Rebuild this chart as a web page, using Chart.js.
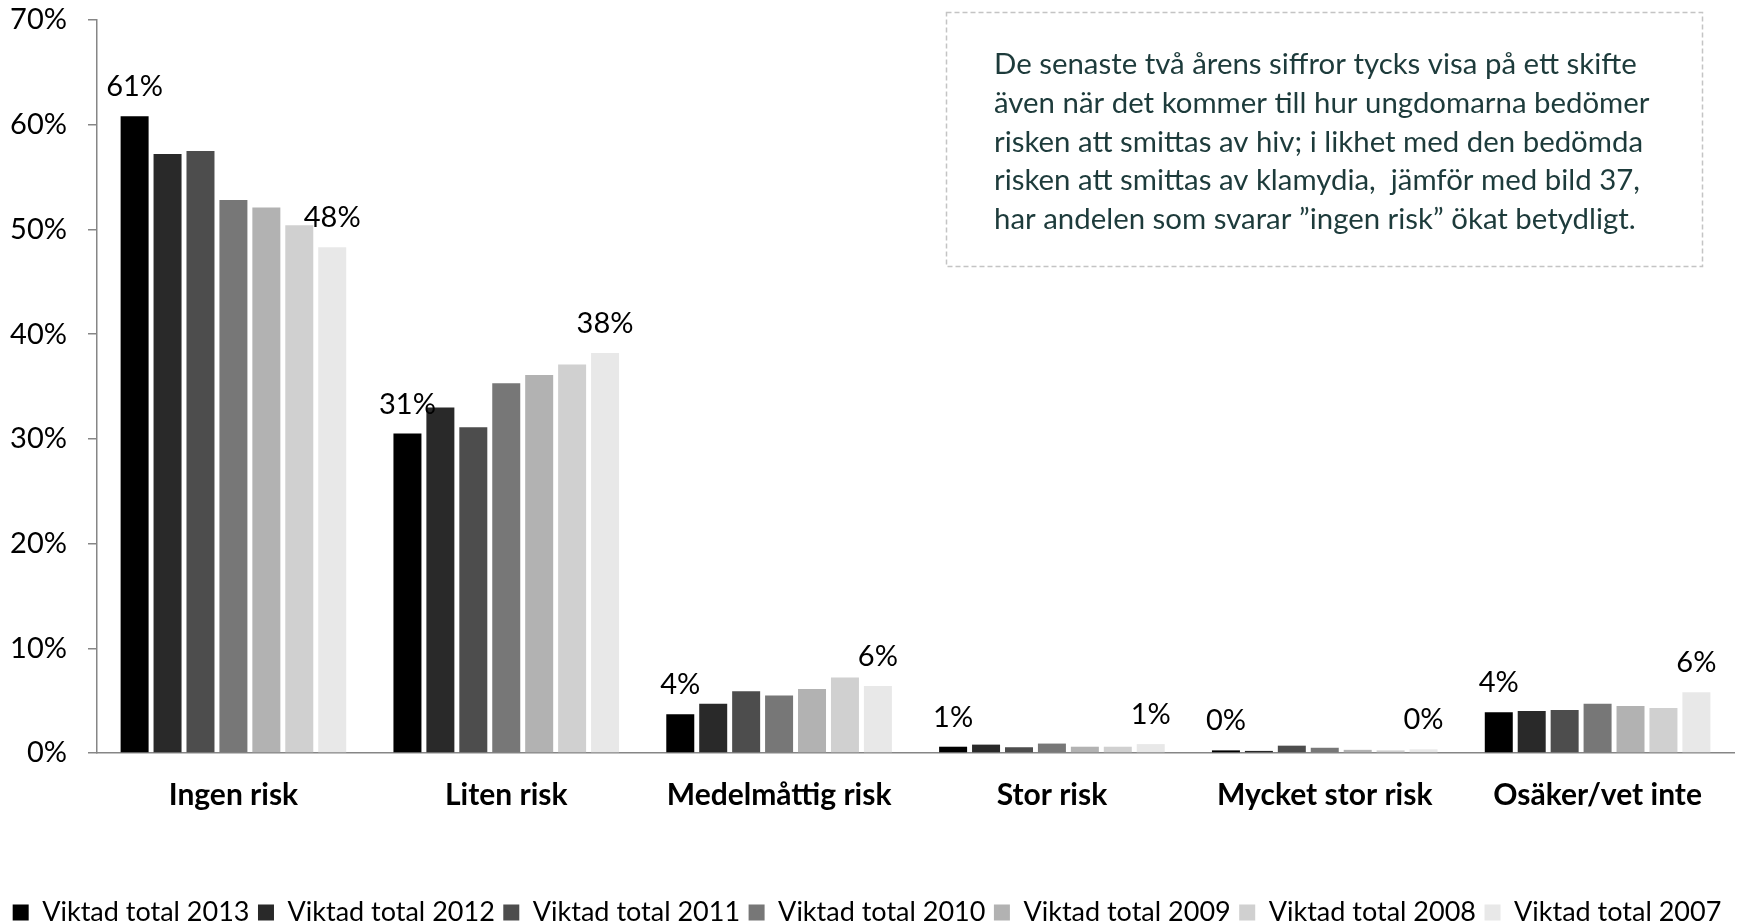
<!DOCTYPE html>
<html><head><meta charset="utf-8">
<script src="https://cdn.jsdelivr.net/npm/chart.js@4"></script>
<style>html,body{margin:0;padding:0;background:#fff}canvas{display:block}</style>
</head><body>
<canvas id="c" width="1739" height="922"></canvas>
<script>
const categories = ['Ingen risk','Liten risk','Medelmåttig risk','Stor risk','Mycket stor risk','Osäker/vet inte'];
const seriesNames = ['Viktad total 2013','Viktad total 2012','Viktad total 2011','Viktad total 2010','Viktad total 2009','Viktad total 2008','Viktad total 2007'];
const v2013 = [60.8, 30.5, 3.7, 0.6, 0.25, 3.9];
const v2012 = [57.2, 33.0, 4.7, 0.8, 0.2, 4.0];
const v2011 = [57.5, 31.1, 5.9, 0.55, 0.7, 4.1];
const v2010 = [52.8, 35.3, 5.5, 0.9, 0.5, 4.7];
const v2009 = [52.1, 36.1, 6.1, 0.6, 0.3, 4.5];
const v2008 = [50.4, 37.1, 7.2, 0.6, 0.25, 4.3];
const v2007 = [48.3, 38.2, 6.4, 0.85, 0.35, 5.8];
const seriesValues = [v2013, v2012, v2011, v2010, v2009, v2008, v2007];
const seriesColors = ['#000000','#292929','#4d4d4d','#777777','#b2b2b2','#d0d0d0','#e8e8e8'];
const yTickLabels = ['0%','10%','20%','30%','40%','50%','60%','70%'];
const labelledSeries = [0, 6];
const noteLines = [
  'De senaste två årens siffror tycks visa på ett skifte',
  'även när det kommer till hur ungdomarna bedömer',
  'risken att smittas av hiv; i likhet med den bedömda',
  'risken att smittas av klamydia,  jämför med bild 37,',
  'har andelen som svarar \u201dingen risk\u201d ökat betydligt.'
];

const FONT = 'Lato, "Open Sans", sans-serif';

const valueLabels = {
  id: 'valueLabels',
  afterDatasetsDraw(chart) {
    const ctx = chart.ctx;
    ctx.save();
    ctx.font = '29px ' + FONT;
    ctx.fillStyle = '#000';
    ctx.textAlign = 'center';
    ctx.textBaseline = 'alphabetic';
    labelledSeries.forEach(di => {
      const meta = chart.getDatasetMeta(di);
      meta.data.forEach((bar, i) => {
        const v = chart.data.datasets[di].data[i];
        ctx.fillText(Math.round(v) + '%', bar.x, bar.y - 20);
      });
    });
    ctx.restore();
  }
};

const note = {
  id: 'note',
  afterDraw(chart) {
    const ctx = chart.ctx;
    ctx.save();
    ctx.strokeStyle = '#c4c4c4';
    ctx.lineWidth = 1.5;
    ctx.setLineDash([5, 3]);
    ctx.strokeRect(946.5, 12.5, 756, 254);
    ctx.setLineDash([]);
    ctx.fillStyle = '#1d3b3b';
    ctx.font = '29.4px ' + FONT;
    ctx.textAlign = 'left';
    ctx.textBaseline = 'alphabetic';
    noteLines.forEach((t, i) => ctx.fillText(t, 994, 74 + i * 38.8));
    ctx.restore();
  }
};

new Chart(document.getElementById('c'), {
  type: 'bar',
  data: {
    labels: categories,
    datasets: seriesNames.map((n, i) => ({
      label: n,
      data: seriesValues[i],
      backgroundColor: seriesColors[i],
      borderWidth: 0,
      categoryPercentage: 0.845,
      barPercentage: 0.85
    }))
  },
  options: {
    responsive: false,
    animation: false,
    devicePixelRatio: 1,
    layout: { padding: { top: 0, right: 5, bottom: -14, left: 0 } },
    plugins: {
      legend: {
        position: 'bottom',
        labels: { boxWidth: 16, boxHeight: 16, padding: 8.5, color: '#000', font: { family: FONT, size: 27 } }
      },
      tooltip: { enabled: false }
    },
    scales: {
      x: {
        grid: { display: false, drawTicks: false },
        border: { display: true, color: '#868686', width: 1.5 },
        ticks: { color: '#000', font: { family: FONT, size: 30, weight: 'bold' }, padding: 24 },
        afterFit(s) { s.height = 137.5; }
      },
      y: {
        min: 0, max: 70,
        ticks: { stepSize: 10, callback: (v, i) => yTickLabels[i], color: '#000', font: { family: FONT, size: 29 }, padding: 21 },
        grid: { drawOnChartArea: false, drawTicks: true, tickLength: 9, color: '#868686', lineWidth: 1.5 },
        border: { display: true, color: '#868686', width: 1.5 },
        afterFit(s) { s.width = 97; s.paddingTop = 20; s.paddingBottom = 0; }
      }
    }
  },
  plugins: [valueLabels, note]
});
</script>
</body></html>
